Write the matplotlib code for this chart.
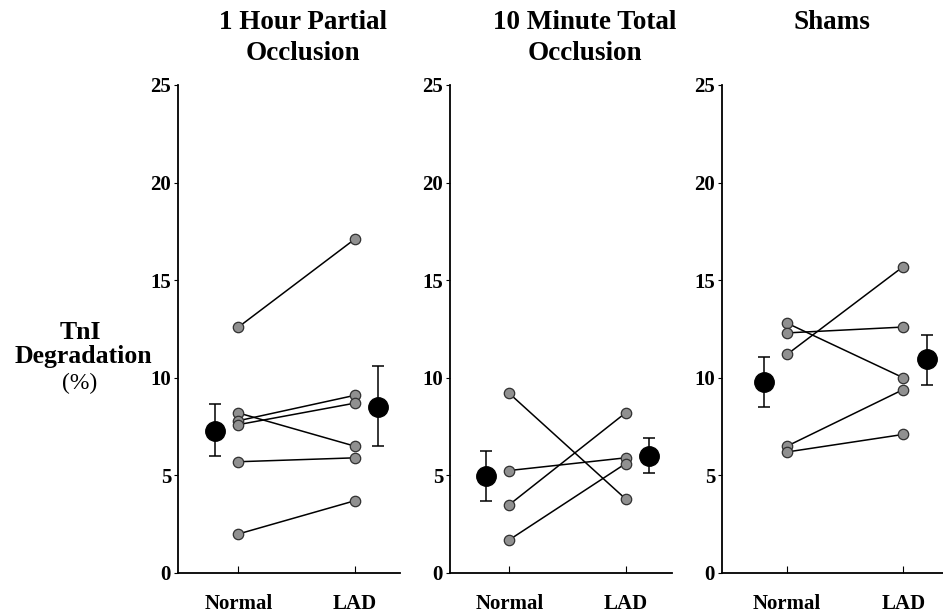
import matplotlib.pyplot as plt

plt.rcParams['font.family'] = ['Liberation Serif', 'DejaVu Serif']

titles = ["1 Hour Partial\nOcclusion", "10 Minute Total\nOcclusion", "Shams"]
x_labels = ["Normal", "LAD"]

# individual animals: (Normal, LAD)
normal_vals = [
    [12.6, 8.2, 7.8, 7.6, 5.7, 2.0],
    [9.2, 5.25, 3.5, 1.7],
    [12.8, 12.3, 11.2, 6.5, 6.2],
]
lad_vals = [
    [17.1, 6.5, 9.1, 8.7, 5.9, 3.7],
    [3.8, 5.9, 8.2, 5.6],
    [10.0, 12.6, 15.7, 9.4, 7.1],
]
# group means and error bars (lower, upper)
mean_normal = [7.3, 4.95, 9.8]
err_normal = [(1.3, 1.35), (1.25, 1.3), (1.3, 1.25)]
mean_lad = [8.5, 6.0, 10.95]
err_lad = [(2.0, 2.1), (0.9, 0.9), (1.3, 1.25)]

W, H = 943, 613
fig = plt.figure(figsize=(W / 100, H / 100), dpi=100)

ax_left = [178, 450, 722]
x_low = [-0.52, -0.51, -0.56]
title_x = [303, 585, 832]

for i in range(3):
    ax = fig.add_axes([ax_left[i] / W, 40 / H, 222 / W, 488 / H])
    for n, l in zip(normal_vals[i], lad_vals[i]):
        ax.plot([0, 1], [n, l], color="black", lw=1.1, zorder=2)
    ax.plot([0] * len(normal_vals[i]), normal_vals[i], "o", ms=7.5,
            mfc="#909090", mec="#303030", mew=0.9, ls="none", zorder=3)
    ax.plot([1] * len(lad_vals[i]), lad_vals[i], "o", ms=7.5,
            mfc="#909090", mec="#303030", mew=0.9, ls="none", zorder=3)
    ax.errorbar([-0.2], [mean_normal[i]], yerr=[[err_normal[i][0]], [err_normal[i][1]]],
                fmt="o", color="black", ms=14, capsize=4, elinewidth=1.1, capthick=1.1)
    ax.errorbar([1.2], [mean_lad[i]], yerr=[[err_lad[i][0]], [err_lad[i][1]]],
                fmt="o", color="black", ms=14, capsize=4, elinewidth=1.1, capthick=1.1)

    ax.set_xlim(x_low[i], x_low[i] + 1.91)
    ax.set_ylim(0, 25)
    ax.set_yticks([0, 5, 10, 15, 20, 25])
    ax.set_xticks([0, 1])
    ax.set_xticklabels(x_labels, fontweight="bold", fontsize=15)
    for lab in ax.get_yticklabels():
        lab.set_fontweight("bold")
        lab.set_fontsize(15)
    ax.tick_params(axis="x", direction="in", length=5, pad=15)
    ax.tick_params(axis="y", direction="out", length=3, pad=2)
    ax.spines["top"].set_visible(False)
    ax.spines["right"].set_visible(False)
    ax.spines["left"].set_linewidth(1.3)
    ax.spines["bottom"].set_linewidth(1.3)
    ax.patch.set_alpha(0)

    fig.text(title_x[i] / W, 1 - 10 / H, titles[i], ha="center", va="top",
             fontsize=19.5, fontweight="bold", linespacing=1.3)

fig.text(80 / W, 1 - 332 / H, "TnI", ha="center", va="center", fontsize=18.5, fontweight="bold")
fig.text(83 / W, 1 - 357 / H, "Degradation", ha="center", va="center", fontsize=18.5, fontweight="bold")
fig.text(80 / W, 1 - 383 / H, "(%)", ha="center", va="center", fontsize=17)

fig.savefig("out.png", dpi=100)
